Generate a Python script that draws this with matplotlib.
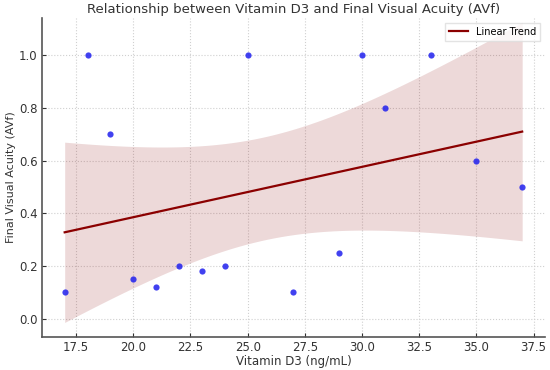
import numpy as np
import matplotlib.pyplot as plt

# Data
vitamin_d3 = [17, 18, 19, 20, 21, 22, 23, 24, 25, 27, 29, 30, 31, 33, 35, 37]
avf = [0.10, 1.00, 0.70, 0.15, 0.12, 0.20, 0.18, 0.20, 1.00, 0.10, 0.25, 1.00, 0.80, 1.00, 0.60, 0.50]
xticks = [17.5, 20.0, 22.5, 25.0, 27.5, 30.0, 32.5, 35.0, 37.5]
yticks = [0.0, 0.2, 0.4, 0.6, 0.8, 1.0]

x = np.array(vitamin_d3, dtype=float)
y = np.array(avf)

# Linear fit with 95% confidence band
slope, intercept = np.polyfit(x, y, 1)
xs = np.linspace(x.min(), x.max(), 100)
ys = slope * xs + intercept
n = len(x)
resid = y - (slope * x + intercept)
s = np.sqrt(np.sum(resid ** 2) / (n - 2))
se = s * np.sqrt(1 / n + (xs - x.mean()) ** 2 / np.sum((x - x.mean()) ** 2))
t = 2.145
lo, hi = ys - t * se, ys + t * se

fig = plt.figure(figsize=(5.5, 3.7), dpi=100)
ax = fig.add_axes([0.076, 0.09, 0.915, 0.861])

ax.fill_between(xs, lo, hi, color='#8B0000', alpha=0.15, linewidth=0)
ax.scatter(x, y, s=20, color='#2020ee', alpha=0.85, zorder=3, linewidths=0)
ax.plot(xs, ys, color='#8B0000', linewidth=1.6, label='Linear Trend', zorder=2)

ax.set_xlim(16, 38)
ax.set_ylim(-0.068, 1.14)
ax.set_xticks(xticks)
ax.set_yticks(yticks)
ax.grid(True, linestyle=':', color='#d0d0d0', linewidth=0.8)
ax.set_axisbelow(True)

for side in ['top', 'right']:
    ax.spines[side].set_visible(False)
for side in ['left', 'bottom']:
    ax.spines[side].set_color('#555555')
    ax.spines[side].set_linewidth(1.2)
ax.tick_params(direction='in', colors='#333333', labelsize=8.5, length=3, pad=3)

ax.set_title('Relationship between Vitamin D3 and Final Visual Acuity (AVf)', fontsize=9.5, color='#333333', pad=4)
ax.set_xlabel('Vitamin D3 (ng/mL)', fontsize=8.5, color='#333333', labelpad=1)
ax.set_ylabel('Final Visual Acuity (AVf)', fontsize=8, color='#333333', labelpad=2)
ax.legend(loc='upper right', fontsize=7, frameon=True, fancybox=False, edgecolor='#dddddd')

fig.savefig('out.png', dpi=100)
